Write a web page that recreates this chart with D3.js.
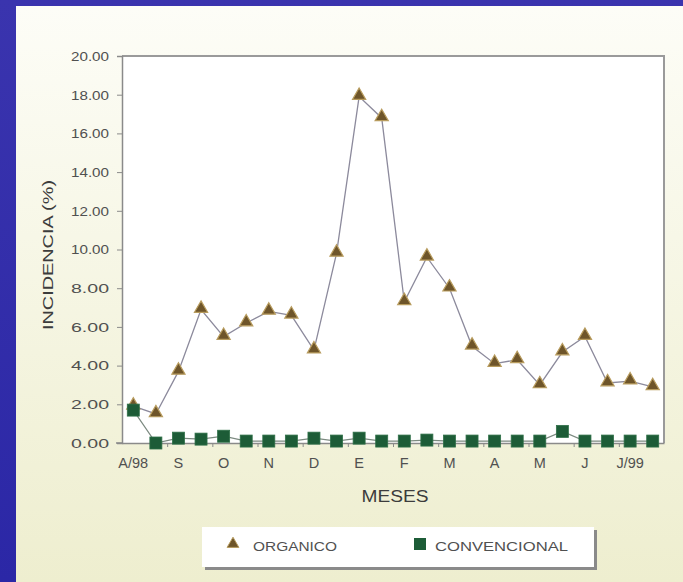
<!DOCTYPE html>
<html><head><meta charset="utf-8">
<script src="https://cdn.jsdelivr.net/npm/d3@7"></script>
<style>body{margin:0;padding:0;overflow:hidden;}svg{display:block;}</style>
</head><body>
<script>
const monthLabels = ["A/98","S","O","N","D","E","F","M","A","M","J","J/99"];
const organico = [1.9,1.5,3.7,6.9,5.5,6.2,6.8,6.6,4.8,9.8,17.9,16.8,7.3,9.6,8.0,5.0,4.1,4.3,3.0,4.7,5.5,3.1,3.2,2.9];
const convencional = [1.7,0.0,0.25,0.2,0.35,0.1,0.1,0.1,0.25,0.1,0.25,0.1,0.1,0.15,0.1,0.1,0.1,0.1,0.1,0.6,0.1,0.1,0.1,0.1];
const yTicks = [0,2,4,6,8,10,12,14,16,18,20];
const seriesNames = ["ORGANICO","CONVENCIONAL"];

const W=683,H=582;
const svg=d3.select("body").append("svg").attr("width",W).attr("height",H);
const defs=svg.append("defs");
const g1=defs.append("linearGradient").attr("id","panel").attr("x1",0).attr("y1",0).attr("x2",0).attr("y2",1);
g1.append("stop").attr("offset","0%").attr("stop-color","#fdfdf7");
g1.append("stop").attr("offset","100%").attr("stop-color","#eeeecf");
const g2=defs.append("linearGradient").attr("id","blue").attr("x1",0).attr("y1",0).attr("x2",0).attr("y2",1);
g2.append("stop").attr("offset","0%").attr("stop-color","#3a34ae");
g2.append("stop").attr("offset","100%").attr("stop-color","#2b27a6");

svg.append("rect").attr("width",W).attr("height",H).attr("fill","url(#blue)");
svg.append("rect").attr("x",16).attr("y",6).attr("width",W-16).attr("height",H-6).attr("fill","url(#panel)");

const L=122,R=664,T=56,B=443;
const x=d3.scaleLinear().domain([-0.5,organico.length-0.5]).range([L,R]);
const y=d3.scaleLinear().domain([0,20]).range([B,T]);

svg.append("rect").attr("x",L).attr("y",T).attr("width",R-L).attr("height",B-T).attr("fill","#ffffff");
svg.append("path").attr("d",`M${L},${T}H${R}V${B}`).attr("fill","none").attr("stroke","#9a9a9a").attr("stroke-width",2);

const font="Liberation Sans, Arial, sans-serif";
const txt="#505050";
// y axis
const yAxis=d3.axisLeft(y).tickValues(yTicks).tickFormat(d3.format(".2f")).tickSize(5).tickPadding(8);
const ya=svg.append("g").attr("transform",`translate(${L},0)`).call(yAxis);
ya.select(".domain").attr("stroke","#8a8a8a").attr("stroke-width",1.5);
ya.selectAll(".tick line").attr("stroke","#8a8a8a");
ya.selectAll("text").attr("font-family",font).attr("font-size",13.5).attr("fill",txt).attr("textLength",38).attr("lengthAdjust","spacingAndGlyphs");

// x axis
const tickPos=d3.range(1.5,organico.length-1,2);
const xAxis=d3.axisBottom(x).tickValues(tickPos).tickFormat("").tickSize(4).tickSizeOuter(0);
const xa=svg.append("g").attr("transform",`translate(0,${B})`).call(xAxis);
xa.select(".domain").attr("stroke","#8a8a8a").attr("stroke-width",1.5);
xa.selectAll(".tick line").attr("stroke","#8a8a8a");
svg.append("line").attr("x1",L-6).attr("x2",L).attr("y1",B).attr("y2",B).attr("stroke","#8a8a8a").attr("stroke-width",1.5);
svg.append("g").selectAll("text").data(monthLabels).join("text")
  .attr("x",(d,i)=>x(i*2)).attr("y",B+25).attr("text-anchor","middle")
  .attr("font-family",font).attr("font-size",14.5).attr("fill",txt).text(d=>d);

// titles
svg.append("text").attr("x",395).attr("y",502).attr("text-anchor","middle").attr("font-family",font).attr("font-size",16).attr("fill","#3c3c3c").attr("textLength",67).attr("lengthAdjust","spacingAndGlyphs").text("MESES");
svg.append("text").attr("transform","translate(53,255) rotate(-90)").attr("text-anchor","middle").attr("font-family",font).attr("font-size",15.5).attr("fill","#3c3c3c").attr("textLength",150).attr("lengthAdjust","spacingAndGlyphs").text("INCIDENCIA (%)");

const line=d3.line().x((d,i)=>x(i)).y(d=>y(d));
svg.append("path").datum(convencional).attr("d",line).attr("fill","none").attr("stroke","#7c8a80").attr("stroke-width",1.2);
svg.append("path").datum(organico).attr("d",line).attr("fill","none").attr("stroke","#8c8a9c").attr("stroke-width",1.3);

const tri=d3.symbol().type(d3.symbolTriangle).size(75);
svg.append("g").selectAll("path").data(organico).join("path")
  .attr("transform",(d,i)=>`translate(${x(i)},${y(d)-1})`).attr("d",tri)
  .attr("fill","#6e552a").attr("stroke","#b89c5e").attr("stroke-width",1.2);
svg.append("g").selectAll("rect").data(convencional).join("rect")
  .attr("x",(d,i)=>x(i)-6).attr("y",d=>y(d)-6).attr("width",12).attr("height",12)
  .attr("fill","#1d5c37").attr("stroke","#2f7048").attr("stroke-width",0.8);

// legend
const lg=svg.append("g");
lg.append("rect").attr("x",205).attr("y",530).attr("width",392).attr("height",40).attr("fill","#8a8a8a");
lg.append("rect").attr("x",202).attr("y",527).attr("width",392).attr("height",40).attr("fill","#ffffff");
lg.append("path").attr("transform","translate(233,544)").attr("d",d3.symbol().type(d3.symbolTriangle).size(60)).attr("fill","#6e552a").attr("stroke","#b89c5e").attr("stroke-width",1);
lg.append("text").attr("x",253).attr("y",551).attr("font-family",font).attr("font-size",13.5).attr("fill",txt).attr("textLength",84).attr("lengthAdjust","spacingAndGlyphs").text(seriesNames[0]);
lg.append("rect").attr("x",414).attr("y",538).attr("width",12).attr("height",12).attr("fill","#1d5c37");
lg.append("text").attr("x",435).attr("y",551).attr("font-family",font).attr("font-size",13.5).attr("fill",txt).attr("textLength",133).attr("lengthAdjust","spacingAndGlyphs").text(seriesNames[1]);
</script>
</body></html>
